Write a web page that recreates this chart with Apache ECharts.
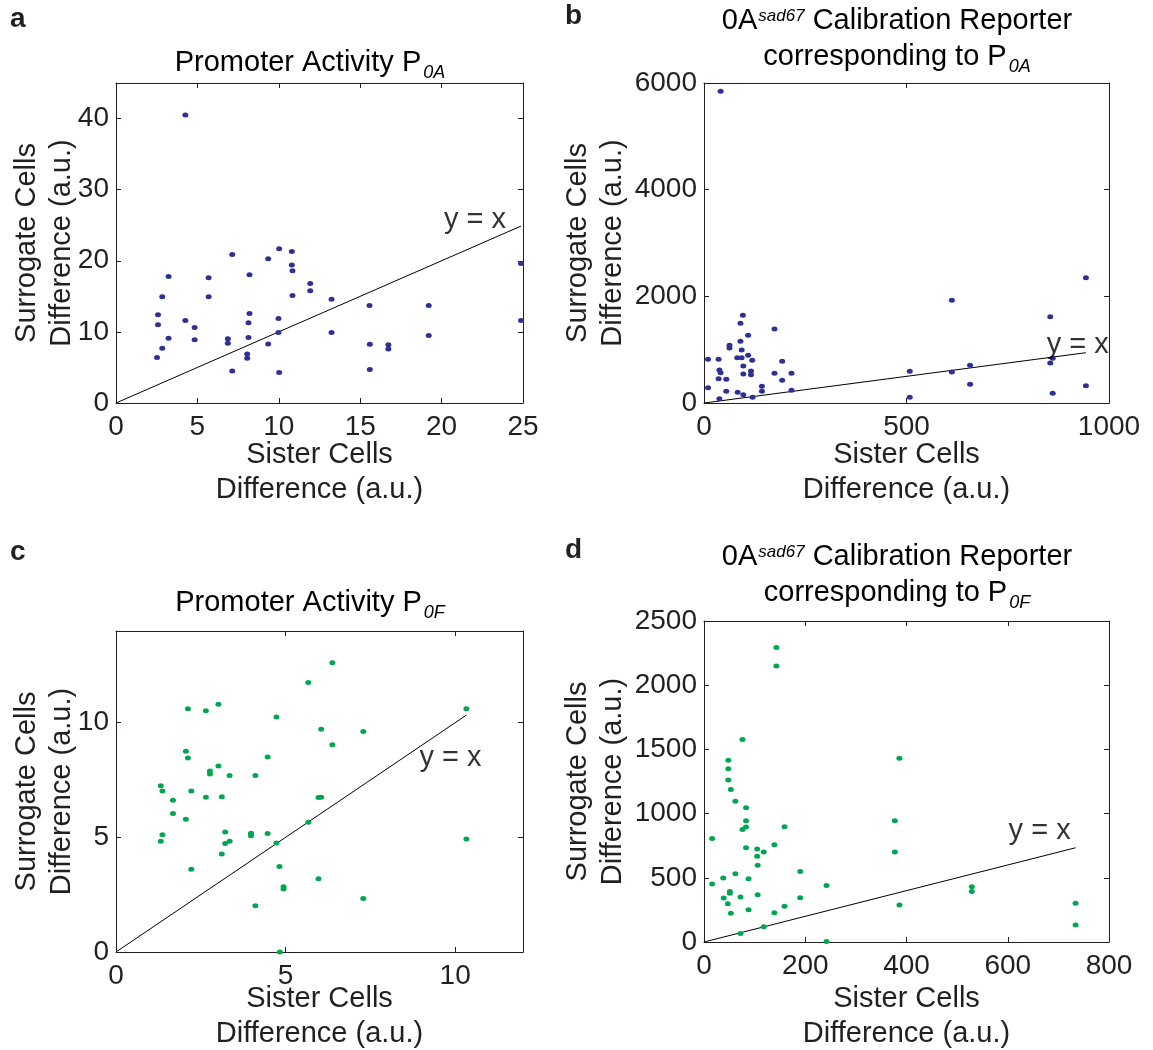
<!DOCTYPE html>
<html><head><meta charset="utf-8">
<script src="https://cdn.jsdelivr.net/npm/echarts@6/dist/echarts.min.js"></script>
<style>html,body{margin:0;padding:0;background:#fff}#c{width:1153px;height:1050px}</style>
</head><body><div id="c"></div>
<script>
// ---- Panel a: Promoter Activity P0A ----
const aX = [4.26,7.14,10.02,10.80,9.35,10.80,10.84,3.23,5.69,8.20,11.93,11.93,10.84,2.84,5.69,13.24,15.57,19.21,24.88,24.88,2.58,2.58,4.26,4.83,8.20,8.14,9.98,3.23,4.83,6.87,6.87,8.14,9.98,13.24,2.84,2.52,9.35,8.06,8.06,7.14,10.02,15.59,15.59,16.73,16.73,19.21];
const aY = [40.5,20.9,21.7,21.3,20.3,19.4,18.6,17.8,17.6,18.05,16.8,15.8,15.1,14.95,14.95,14.6,13.7,13.7,19.6,11.6,12.4,11.0,11.6,10.6,12.6,11.3,11.9,9.1,8.9,9.05,8.4,9.2,9.9,9.9,7.7,6.4,8.3,6.9,6.3,4.5,4.3,8.25,4.7,8.2,7.6,9.5];
const aXTicks = [0,5,10,15,20,25];
const aYTicks = [0,10,20,30,40];
const aRange = {xMax:25, yMax:45};
const aEq = [22.05, 25.7];

// ---- Panel b: 0A sad67 reporter corresponding to P0A ----
const bX = [41,96,90,109,174,63,63,90,93,109,82,93,119,97,10,36,38,41,97,116,116,174,193,216,193,36,55,10,55,83,97,120,143,143,216,38,508,508,612,612,657,657,855,855,861,861,943,943];
const bY = [5844,1644,1494,1269,1388,1081,1031,1156,994,894,850,850,800,694,819,819,619,569,544,600,531,556,781,556,425,456,444,288,219,200,156,106,313,219,238,81,594,106,1925,581,706,350,1619,750,838,181,2350,325];
const bXTicks = [0,500,1000];
const bYTicks = [0,2000,4000,6000];
const bRange = {xMax:1000, yMax:6000};
const bEq = [923, 1093];

// ---- Panel c: Promoter Activity P0F ----
const cX = [6.38,5.67,2.12,2.65,3.02,4.73,6.05,7.29,6.38,10.33,2.06,2.12,4.47,3.02,2.77,2.77,3.35,4.11,1.32,1.37,2.22,1.68,2.65,3.12,5.97,6.05,1.68,2.06,5.67,3.22,3.98,3.98,4.47,1.37,1.32,3.35,3.22,4.73,3.12,10.33,2.22,4.82,5.97,4.94,4.94,7.29,4.11,4.83];
const cY = [12.62,11.75,10.61,10.52,10.80,10.25,9.72,9.62,9.04,10.61,8.76,8.46,8.50,8.11,7.89,7.76,7.70,7.70,7.25,7.02,7.02,6.62,6.75,6.77,6.74,6.75,6.04,5.79,5.66,5.23,5.18,5.07,5.17,5.11,4.83,4.83,4.73,4.75,4.27,4.93,3.61,3.73,3.20,2.85,2.75,2.33,2.02,0];
const cXTicks = [0,5,10];
const cYTicks = [0,5,10];
const cRange = {xMax:12, yMax:14};
const cEq = [9.86, 8.46];

// ---- Panel d: 0A sad67 reporter corresponding to P0F ----
const dX = [143,143,76,386,48,48,48,53,62,83,83,83,76,159,377,16,83,105,118,139,105,106,377,62,38,88,190,16,242,51,51,39,72,106,190,47,53,88,139,159,118,72,242,386,529,529,734,734];
const dY = [2293,2150,1577,1432,1416,1349,1261,1188,1097,1045,944,895,877,898,944,807,734,724,700,757,667,597,700,532,498,493,550,451,441,394,379,342,350,368,345,298,223,252,228,278,119,67,3,288,431,394,301,132];
const dXTicks = [0,200,400,600,800];
const dYTicks = [0,500,1000,1500,2000,2500];
const dRange = {xMax:800, yMax:2500};
const dEq = [663, 862];

const FONT = '"Liberation Sans", Arial, Helvetica, sans-serif';
const INK = '#231f20';
const BLUE = '#2e3192';
const GREEN = '#00a651';

const panels = [
  {X:aX, Y:aY, color:BLUE, grid:{left:116, top:83, width:407, height:320}, xT:aXTicks, yT:aYTicks, r:aRange, eq:aEq, yGap:37, xGap:34},
  {X:bX, Y:bY, color:BLUE, grid:{left:704, top:83, width:405, height:320}, xT:bXTicks, yT:bYTicks, r:bRange, eq:bEq, yGap:74, xGap:34},
  {X:cX, Y:cY, color:GREEN, grid:{left:116, top:631, width:407, height:321}, xT:cXTicks, yT:cYTicks, r:cRange, eq:cEq, yGap:37, xGap:29},
  {X:dX, Y:dY, color:GREEN, grid:{left:704, top:621, width:405, height:321}, xT:dXTicks, yT:dYTicks, r:dRange, eq:dEq, yGap:74, xGap:39}
];

const grids = [], xAxes = [], yAxes = [], series = [];
const lineS = {show:true, onZero:false, lineStyle:{color:INK, width:1}};
const tickS = {show:true, inside:true, length:5, lineStyle:{color:INK, width:1}};
const labS = {fontSize:28, color:INK, fontFamily:FONT};
const nameS = {fontSize:29, lineHeight:35, color:INK, fontFamily:FONT};

panels.forEach((p, i) => {
  grids.push(Object.assign({containLabel:false, outerBoundsMode:'none'}, p.grid));
  const xInt = p.xT[1] - p.xT[0], yInt = p.yT[1] - p.yT[0];
  const fx = v => p.xT.indexOf(v) >= 0 ? String(v) : '';
  const fy = v => p.yT.indexOf(v) >= 0 ? String(v) : '';
  xAxes.push({gridIndex:i, type:'value', position:'bottom', min:p.xT[0], max:p.r.xMax, interval:xInt,
    axisLine:lineS, axisTick:tickS, splitLine:{show:false},
    axisLabel:Object.assign({margin:10, formatter:fx, showMaxLabel:true, showMinLabel:true}, labS),
    name:'Sister Cells\nDifference (a.u.)', nameLocation:'middle', nameGap:p.xGap, nameMoveOverlap:false, nameTextStyle:nameS});
  xAxes.push({gridIndex:i, type:'value', position:'top', min:p.xT[0], max:p.r.xMax, interval:xInt,
    axisLine:lineS, axisTick:tickS, splitLine:{show:false}, axisLabel:{show:false}});
  yAxes.push({gridIndex:i, type:'value', position:'left', min:p.yT[0], max:p.r.yMax, interval:yInt,
    axisLine:lineS, axisTick:tickS, splitLine:{show:false},
    axisLabel:Object.assign({margin:7, formatter:fy, showMaxLabel:true, showMinLabel:true}, labS),
    name:'Surrogate Cells\nDifference (a.u.)', nameLocation:'middle', nameGap:p.yGap, nameMoveOverlap:false, nameTextStyle:nameS});
  yAxes.push({gridIndex:i, type:'value', position:'right', min:p.yT[0], max:p.r.yMax, interval:yInt,
    axisLine:lineS, axisTick:tickS, splitLine:{show:false}, axisLabel:{show:false}});

  const m = Math.max.apply(null, p.X);
  series.push({type:'line', xAxisIndex:2*i, yAxisIndex:2*i, data:[[0,0],[m,m]], symbol:'none',
    lineStyle:{color:'#000', width:1}, silent:true, z:1});
  series.push({type:'scatter', xAxisIndex:2*i, yAxisIndex:2*i, data:p.X.map((x,k)=>[x,p.Y[k]]),
    symbol:'circle', symbolSize:[6,5], itemStyle:{color:p.color, opacity:1}, z:2});
  series.push({type:'scatter', xAxisIndex:2*i, yAxisIndex:2*i, data:[p.eq], symbolSize:0, silent:true, z:3,
    label:{show:true, position:'inside', formatter:'y = x', fontSize:29, color:'#000', fontFamily:FONT}});
});

const letterS = {fontSize:28, fontWeight:'bold', color:INK, fontFamily:FONT};
const titleS = {fontSize:29, fontWeight:'normal', color:'#000', fontFamily:FONT, lineHeight:36,
  rich:{
    sub:{fontSize:18, fontWeight:'normal', fontStyle:'italic', fontFamily:FONT, color:'#000', verticalAlign:'middle', padding:[19,0,0,2]},
    sup:{fontSize:17, fontWeight:'normal', fontStyle:'italic', fontFamily:FONT, color:'#000', verticalAlign:'middle', padding:[0,0,9,1]}
  }};
const titles = [
  {text:'a', left:10, top:5, textStyle:letterS, padding:0},
  {text:'b', left:565, top:2, textStyle:letterS, padding:0},
  {text:'c', left:10, top:538, textStyle:letterS, padding:0},
  {text:'d', left:565, top:536, textStyle:letterS, padding:0},
  {text:'Promoter Activity P{sub|0A}', left:310, textAlign:'center', top:45, textStyle:titleS, padding:0},
  {text:'0A{sup|sad67} Calibration Reporter\ncorresponding to P{sub|0A}', left:897, textAlign:'center', top:3, textStyle:titleS, padding:0},
  {text:'Promoter Activity P{sub|0F}', left:310, textAlign:'center', top:585, textStyle:titleS, padding:0},
  {text:'0A{sup|sad67} Calibration Reporter\ncorresponding to P{sub|0F}', left:897, textAlign:'center', top:539, textStyle:titleS, padding:0}
];

const chart = echarts.init(document.getElementById('c'), null, {renderer:'canvas'});
chart.setOption({
  animation:false,
  backgroundColor:'#fff',
  title:titles,
  grid:grids,
  xAxis:xAxes,
  yAxis:yAxes,
  series:series
});
</script>
</body></html>
